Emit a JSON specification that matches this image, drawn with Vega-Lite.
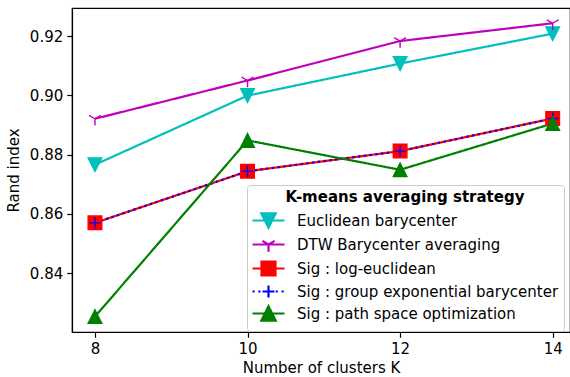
{
  "$schema": "https://vega.github.io/schema/vega-lite/v6.json",
  "width": 498,
  "height": 324,
  "autosize": {"type": "none"},
  "padding": {"left": 72, "top": 8, "right": 0, "bottom": 45},
  "config": {
    "font": "DejaVu Sans",
    "view": {"stroke": "black", "strokeWidth": 1.2},
    "axis": {
      "labelFont": "DejaVu Sans", "labelFontSize": 15, "labelColor": "black",
      "titleFont": "DejaVu Sans", "titleFontSize": 15, "titleFontWeight": "normal", "titleColor": "black",
      "tickColor": "black", "tickWidth": 1.2, "tickSize": 5.25, "labelPadding": 4,
      "domainColor": "black", "domainWidth": 1.2, "grid": false
    },
    "legend": {
      "orient": "none",
      "legendX": 175,
      "legendY": 177,
      "titleFont": "DejaVu Sans",
      "titleFontSize": 15,
      "titleFontWeight": "bold",
      "titleColor": "black",
      "titleAnchor": "middle",
      "titlePadding": 4,
      "titleLimit": 400,
      "labelFont": "DejaVu Sans",
      "labelFontSize": 15,
      "labelColor": "black",
      "labelOffset": 22,
      "labelLimit": 400,
      "symbolSize": 400,
      "symbolStrokeWidth": 2.2,
      "symbolOpacity": 1,
      "padding": 5,
      "rowPadding": -2.5,
      "strokeColor": "#cccccc",
      "fillColor": "rgba(255,255,255,0.8)",
      "cornerRadius": 3
    }
  },
  "data": {
    "values": [
      {"K": 8, "value": 0.8766, "series": "Euclidean barycenter"},
      {"K": 10, "value": 0.8999, "series": "Euclidean barycenter"},
      {"K": 12, "value": 0.9107, "series": "Euclidean barycenter"},
      {"K": 14, "value": 0.9208, "series": "Euclidean barycenter"},
      {"K": 8, "value": 0.8921, "series": "DTW Barycenter averaging"},
      {"K": 10, "value": 0.9050, "series": "DTW Barycenter averaging"},
      {"K": 12, "value": 0.9183, "series": "DTW Barycenter averaging"},
      {"K": 14, "value": 0.9243, "series": "DTW Barycenter averaging"},
      {"K": 8, "value": 0.8570, "series": "Sig : log-euclidean"},
      {"K": 10, "value": 0.8744, "series": "Sig : log-euclidean"},
      {"K": 12, "value": 0.8812, "series": "Sig : log-euclidean"},
      {"K": 14, "value": 0.8922, "series": "Sig : log-euclidean"},
      {"K": 8, "value": 0.8570, "series": "Sig : group exponential barycenter"},
      {"K": 10, "value": 0.8744, "series": "Sig : group exponential barycenter"},
      {"K": 12, "value": 0.8812, "series": "Sig : group exponential barycenter"},
      {"K": 14, "value": 0.8922, "series": "Sig : group exponential barycenter"},
      {"K": 8, "value": 0.8254, "series": "Sig : path space optimization"},
      {"K": 10, "value": 0.8848, "series": "Sig : path space optimization"},
      {"K": 12, "value": 0.8749, "series": "Sig : path space optimization"},
      {"K": 14, "value": 0.8905, "series": "Sig : path space optimization"}
    ]
  },
  "encoding": {
    "x": {
      "field": "K", "type": "quantitative",
      "scale": {"domain": [7.699, 14.227], "nice": false, "zero": false},
      "axis": {"values": [8, 10, 12, 14], "title": "Number of clusters K", "titlePadding": 4}
    },
    "y": {
      "field": "value", "type": "quantitative",
      "scale": {"domain": [0.82021, 0.92944], "nice": false, "zero": false},
      "axis": {"values": [0.84, 0.86, 0.88, 0.90, 0.92], "format": ".2f", "title": "Rand index", "titlePadding": 8}
    }
  },
  "resolve": {
    "scale": {"shape": "independent"},
    "legend": {"fill": "independent", "stroke": "independent", "shape": "independent"}
  },
  "layer": [
    {
      "mark": {"type": "line", "strokeWidth": 2.2},
      "encoding": {
        "stroke": {
          "field": "series", "type": "nominal",
          "scale": {
            "domain": ["Euclidean barycenter", "DTW Barycenter averaging", "Sig : log-euclidean", "Sig : group exponential barycenter", "Sig : path space optimization"],
            "range": ["#00BFBF", "#BF00BF", "#FF0000", "#0000FF", "#008000"]
          },
          "legend": null
        },
        "strokeDash": {
          "field": "series", "type": "nominal",
          "scale": {
            "domain": ["Euclidean barycenter", "DTW Barycenter averaging", "Sig : log-euclidean", "Sig : group exponential barycenter", "Sig : path space optimization"],
            "range": [[1, 0], [1, 0], [1, 0], [2.2, 3.6], [1, 0]]
          },
          "legend": null
        }
      }
    },
    {
      "mark": {"type": "point", "filled": true, "size": 185, "strokeWidth": 1.4, "opacity": 1},
      "encoding": {
        "fill": {
          "field": "series", "type": "nominal",
          "scale": {
            "domain": ["Euclidean barycenter", "DTW Barycenter averaging", "Sig : log-euclidean", "Sig : group exponential barycenter", "Sig : path space optimization"],
            "range": ["#00BFBF", "#BF00BF", "#FF0000", "#0000FF", "#008000"]
          },
          "legend": null
        },
        "stroke": {"field": "series", "type": "nominal", "legend": null},
        "shape": {
          "field": "series", "type": "nominal",
          "scale": {
            "domain": ["Euclidean barycenter", "DTW Barycenter averaging", "Sig : log-euclidean", "Sig : group exponential barycenter", "Sig : path space optimization"],
            "range": ["M0,1L-1,-1L1,-1Z", "M0,0L0,1M0,0L0.866,-0.5M0,0L-0.866,-0.5", "M-1,-1H1V1H-1Z", "M-0.85,0H0.85M0,-0.85V0.85", "M0,-1L-1,1L1,1Z"]
          },
          "legend": null
        }
      }
    },
    {
      "transform": [{"filter": "datum.K < 0"}],
      "mark": {"type": "point", "filled": true, "opacity": 1, "strokeWidth": 2.2},
      "encoding": {
        "fill": {"field": "series", "type": "nominal", "legend": {"title": "K-means averaging strategy"}},
        "stroke": {"field": "series", "type": "nominal", "legend": {"title": "K-means averaging strategy"}},
        "shape": {
          "field": "series", "type": "nominal",
          "scale": {
            "domain": ["Euclidean barycenter", "DTW Barycenter averaging", "Sig : log-euclidean", "Sig : group exponential barycenter", "Sig : path space optimization"],
            "range": [
              "M-1.1,0H2.1M-0.22,-0.72L1.22,-0.72L0.5,0.72Z",
              "M-1.1,0H2.1M0.5,0V0.72M0.5,0L-0.12,-0.36M0.5,0L1.12,-0.36",
              "M-1.1,0H2.1M-0.2,-0.7H1.2V0.7H-0.2Z",
              "M-1.1,0H-0.88M-0.52,0H-0.3M0.64,0H0.86M1.22,0H1.44M1.8,0H2.02M-0.1,0H1.1M0.5,-0.6V0.6",
              "M-1.1,0H2.1M0.5,-0.72L-0.22,0.72L1.22,0.72Z"
            ]
          },
          "legend": {"title": "K-means averaging strategy"}
        }
      }
    }
  ]
}
